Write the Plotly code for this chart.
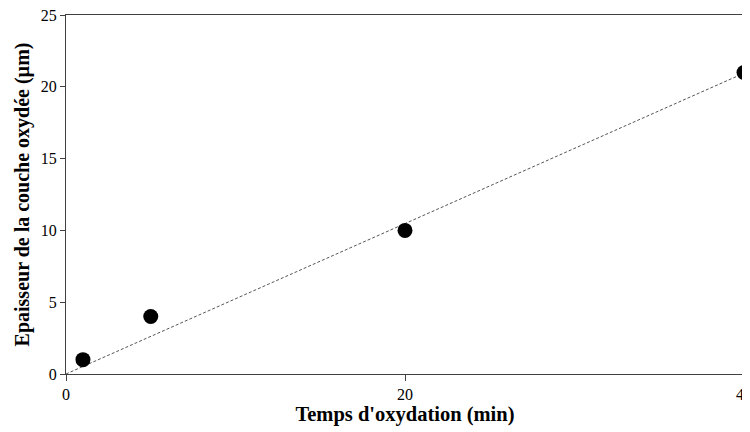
import plotly.graph_objects as go

time_min = [1, 5, 20, 40]
thickness_um = [1, 4, 10, 21]
trend_x = [0, 40]
trend_y = [0, 20.95]
x_ticks = [0, 20, 40]
y_ticks = [0, 5, 10, 15, 20, 25]

fig = go.Figure()
fig.add_trace(go.Scatter(x=trend_x, y=trend_y, mode="lines",
                         line=dict(color="#555555", width=1, dash="3px,2px"),
                         hoverinfo="skip", showlegend=False))
fig.add_trace(go.Scatter(x=time_min, y=thickness_um, mode="markers",
                         marker=dict(color="black", size=15),
                         showlegend=False, cliponaxis=False))

font = "Liberation Serif"
tickfont = dict(family=font, size=16, color="black")
fig.update_layout(
    width=742, height=424,
    margin=dict(l=58, r=6, t=7, b=58),
    plot_bgcolor="white", paper_bgcolor="white",
    font=dict(family=font, size=16, color="black"),
    xaxis=dict(range=[0, 40], tickvals=x_ticks, showgrid=False, zeroline=False,
               showline=True, linecolor="#404040", linewidth=1, mirror=True,
               ticks="outside", ticklen=6, tickcolor="#404040", automargin=False,
               tickfont=tickfont, ticklabeloverflow="allow",
               title=dict(text="<b>Temps d'oxydation (min)</b>", font=dict(family=font, size=20.5), standoff=4)),
    yaxis=dict(range=[0, 25], tickvals=y_ticks, showgrid=False, zeroline=False,
               showline=True, linecolor="#404040", linewidth=1, mirror=True,
               ticks="outside", ticklen=5, tickcolor="#404040", automargin=False,
               tickfont=tickfont, ticklabeloverflow="allow",
               title=dict(text="<b>Epaisseur de la couche oxydée (µm)</b>", font=dict(family=font, size=20), standoff=5)),
)
fig.write_html("out.html")
